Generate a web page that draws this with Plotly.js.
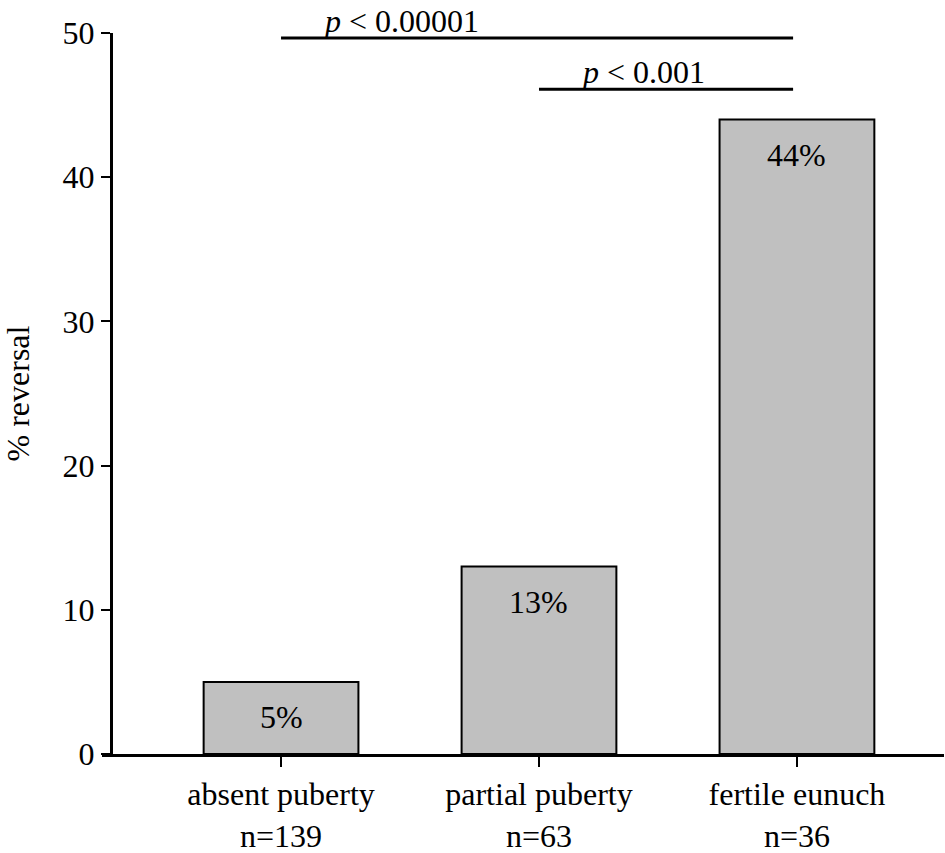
<!DOCTYPE html>
<html>
<head>
<meta charset="utf-8">
<script src="https://cdn.plot.ly/plotly-3.0.1.min.js"></script>
<style>
  html, body { margin: 0; padding: 0; background: #fff; }
  #chart { width: 945px; height: 853px; }
</style>
</head>
<body>
<div id="chart"></div>
<script>
        // categories and values
        const categories = ['absent puberty', 'partial puberty', 'fertile eunuch'];
        const groupSizes = ['n=139', 'n=63', 'n=36'];
        const reversalPct = [5, 13, 44];
        const barLabels = ['5%', '13%', '44%'];

        // significance brackets: from category index, to category index, height, label
        const sigFrom = [0, 1];
        const sigTo = [2, 2];
        const sigLevel = [49.65, 46.1];
        const sigText = ['<i>p</i> < 0.00001', '<i>p</i> < 0.001'];

        const yTicks = [0, 10, 20, 30, 40, 50];

        const serif = "'Liberation Serif', 'Times New Roman', serif";
        const fs = 32;

        function drawChart() {
                let tickText = categories.map((c, i) => c + '<br>' + groupSizes[i]);

                let bars = {
                        type: 'bar',
                        x: [0, 1, 2],
                        y: reversalPct,
                        width: 0.6,
                        marker: {
                                color: '#c0c0c0',
                                line: { color: '#000', width: 2 },
                        },
                        hoverinfo: 'skip',
                };

                let shapes = [];
                let annotations = [];

                for (let i = 0; i < sigFrom.length; i++) {
                        shapes.push({
                                type: 'line',
                                xref: 'x', yref: 'y',
                                x0: sigFrom[i], x1: sigTo[i] - 0.015,
                                y0: sigLevel[i], y1: sigLevel[i],
                                line: { color: '#000', width: 3 },
                        });
                        annotations.push({
                                xref: 'x', yref: 'y',
                                x: sigFrom[i], y: sigLevel[i],
                                xanchor: 'left', yanchor: 'bottom',
                                xshift: 40, yshift: -3,
                                text: sigText[i],
                                showarrow: false,
                                font: { family: serif, size: fs, color: '#000' },
                        });
                }

                for (let i = 0; i < reversalPct.length; i++) {
                        annotations.push({
                                xref: 'x', yref: 'y',
                                x: i, y: reversalPct[i],
                                xanchor: 'center', yanchor: 'middle',
                                yshift: -35,
                                text: barLabels[i],
                                showarrow: false,
                                font: { family: serif, size: fs, color: '#000' },
                        });
                }

                let layout = {
                        width: 945,
                        height: 853,
                        margin: { l: 102, r: 1, t: 33, b: 99 },
                        paper_bgcolor: '#fff',
                        plot_bgcolor: '#fff',
                        showlegend: false,
                        font: { family: serif, size: fs, color: '#000' },
                        xaxis: {
                                range: [-0.694, 2.57],
                                tickmode: 'array',
                                tickvals: [0, 1, 2],
                                ticktext: tickText,
                                ticks: 'outside',
                                ticklen: 10,
                                tickwidth: 2,
                                tickcolor: '#000',
                                showline: true,
                                linecolor: '#000',
                                linewidth: 2.5,
                                showgrid: false,
                                zeroline: false,
                                fixedrange: true,
                                tickfont: { family: serif, size: fs, color: '#000' },
                        },
                        yaxis: {
                                range: [0, 50],
                                anchor: 'free',
                                position: 0.0107,
                                tickmode: 'array',
                                tickvals: yTicks,
                                ticks: 'outside',
                                ticklen: 9,
                                tickwidth: 2,
                                tickcolor: '#000',
                                showline: true,
                                linecolor: '#000',
                                linewidth: 2.5,
                                showgrid: false,
                                zeroline: false,
                                fixedrange: true,
                                tickfont: { family: serif, size: fs, color: '#000' },
                                title: {
                                        text: '% reversal',
                                        standoff: 31,
                                        font: { family: serif, size: fs, color: '#000' },
                                },
                        },
                        shapes: shapes,
                        annotations: annotations,
                };

                let config = { displayModeBar: false, staticPlot: true };

                Plotly.newPlot(document.getElementById('chart'), [bars], layout, config);
        }
        drawChart();
</script>
</body>
</html>
